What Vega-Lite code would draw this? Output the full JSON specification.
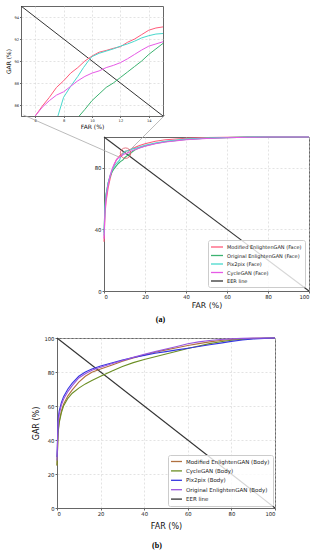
{
  "$schema": "https://vega.github.io/schema/vega-lite/v6.json",
  "padding": {"left": 5, "top": 5, "right": 0, "bottom": 0},
  "background": "white",
  "spacing": 10,
  "config": {
    "view": {"stroke": null},
    "font": "DejaVu Sans",
    "axis": {"grid": true, "gridColor": "#d0d0d0", "gridDash": [2, 2], "gridWidth": 0.6, "domainColor": "#666", "domainWidth": 1, "tickColor": "#666", "tickSize": 2, "labelColor": "#222", "titleColor": "#111", "titleFontWeight": "normal", "labelPadding": 1, "labelFont": "DejaVu Sans", "titleFont": "DejaVu Sans"},
    "legend": {"labelFont": "DejaVu Sans", "labelColor": "#222"}
  },
  "datasets": {
    "face": [
      {"m": "EER line", "far": 0, "gar": 100}, {"m": "EER line", "far": 100, "gar": 0},
      {"m": "Modified EnlightenGAN (Face)", "far": 0, "gar": 32}, {"m": "Modified EnlightenGAN (Face)", "far": 0.5, "gar": 50}, {"m": "Modified EnlightenGAN (Face)", "far": 1, "gar": 58}, {"m": "Modified EnlightenGAN (Face)", "far": 2, "gar": 67}, {"m": "Modified EnlightenGAN (Face)", "far": 3, "gar": 73}, {"m": "Modified EnlightenGAN (Face)", "far": 4, "gar": 78}, {"m": "Modified EnlightenGAN (Face)", "far": 5, "gar": 82}, {"m": "Modified EnlightenGAN (Face)", "far": 6, "gar": 85}, {"m": "Modified EnlightenGAN (Face)", "far": 6.5, "gar": 85.9}, {"m": "Modified EnlightenGAN (Face)", "far": 7, "gar": 86.7}, {"m": "Modified EnlightenGAN (Face)", "far": 7.5, "gar": 87.6}, {"m": "Modified EnlightenGAN (Face)", "far": 8, "gar": 88.2}, {"m": "Modified EnlightenGAN (Face)", "far": 8.5, "gar": 88.9}, {"m": "Modified EnlightenGAN (Face)", "far": 9, "gar": 89.4}, {"m": "Modified EnlightenGAN (Face)", "far": 9.5, "gar": 90}, {"m": "Modified EnlightenGAN (Face)", "far": 10, "gar": 90.45}, {"m": "Modified EnlightenGAN (Face)", "far": 10.5, "gar": 90.8}, {"m": "Modified EnlightenGAN (Face)", "far": 11, "gar": 90.96}, {"m": "Modified EnlightenGAN (Face)", "far": 11.5, "gar": 91.15}, {"m": "Modified EnlightenGAN (Face)", "far": 12, "gar": 91.3}, {"m": "Modified EnlightenGAN (Face)", "far": 12.5, "gar": 91.7}, {"m": "Modified EnlightenGAN (Face)", "far": 13, "gar": 92}, {"m": "Modified EnlightenGAN (Face)", "far": 13.5, "gar": 92.4}, {"m": "Modified EnlightenGAN (Face)", "far": 14, "gar": 92.8}, {"m": "Modified EnlightenGAN (Face)", "far": 14.5, "gar": 93}, {"m": "Modified EnlightenGAN (Face)", "far": 15, "gar": 93.1}, {"m": "Modified EnlightenGAN (Face)", "far": 17, "gar": 94.3}, {"m": "Modified EnlightenGAN (Face)", "far": 20, "gar": 95.6}, {"m": "Modified EnlightenGAN (Face)", "far": 25, "gar": 97.2}, {"m": "Modified EnlightenGAN (Face)", "far": 30, "gar": 98.2}, {"m": "Modified EnlightenGAN (Face)", "far": 40, "gar": 99.2}, {"m": "Modified EnlightenGAN (Face)", "far": 50, "gar": 99.6}, {"m": "Modified EnlightenGAN (Face)", "far": 60, "gar": 99.85}, {"m": "Modified EnlightenGAN (Face)", "far": 70, "gar": 100}, {"m": "Modified EnlightenGAN (Face)", "far": 100, "gar": 100},
      {"m": "Original EnlightenGAN (Face)", "far": 0, "gar": 38}, {"m": "Original EnlightenGAN (Face)", "far": 0.5, "gar": 56}, {"m": "Original EnlightenGAN (Face)", "far": 1, "gar": 63}, {"m": "Original EnlightenGAN (Face)", "far": 2, "gar": 70}, {"m": "Original EnlightenGAN (Face)", "far": 3, "gar": 74.5}, {"m": "Original EnlightenGAN (Face)", "far": 4, "gar": 77.5}, {"m": "Original EnlightenGAN (Face)", "far": 5, "gar": 79.5}, {"m": "Original EnlightenGAN (Face)", "far": 6, "gar": 81.3}, {"m": "Original EnlightenGAN (Face)", "far": 7, "gar": 82.8}, {"m": "Original EnlightenGAN (Face)", "far": 8, "gar": 84}, {"m": "Original EnlightenGAN (Face)", "far": 9.1, "gar": 85}, {"m": "Original EnlightenGAN (Face)", "far": 9.5, "gar": 85.6}, {"m": "Original EnlightenGAN (Face)", "far": 10, "gar": 86.4}, {"m": "Original EnlightenGAN (Face)", "far": 10.5, "gar": 87}, {"m": "Original EnlightenGAN (Face)", "far": 11, "gar": 87.6}, {"m": "Original EnlightenGAN (Face)", "far": 11.5, "gar": 88}, {"m": "Original EnlightenGAN (Face)", "far": 12, "gar": 88.5}, {"m": "Original EnlightenGAN (Face)", "far": 12.5, "gar": 89}, {"m": "Original EnlightenGAN (Face)", "far": 13, "gar": 89.5}, {"m": "Original EnlightenGAN (Face)", "far": 13.5, "gar": 90}, {"m": "Original EnlightenGAN (Face)", "far": 14, "gar": 90.6}, {"m": "Original EnlightenGAN (Face)", "far": 14.5, "gar": 91.1}, {"m": "Original EnlightenGAN (Face)", "far": 15, "gar": 91.6}, {"m": "Original EnlightenGAN (Face)", "far": 17, "gar": 92.8}, {"m": "Original EnlightenGAN (Face)", "far": 20, "gar": 94.2}, {"m": "Original EnlightenGAN (Face)", "far": 25, "gar": 95.8}, {"m": "Original EnlightenGAN (Face)", "far": 30, "gar": 97}, {"m": "Original EnlightenGAN (Face)", "far": 40, "gar": 98.4}, {"m": "Original EnlightenGAN (Face)", "far": 50, "gar": 99.2}, {"m": "Original EnlightenGAN (Face)", "far": 60, "gar": 99.6}, {"m": "Original EnlightenGAN (Face)", "far": 70, "gar": 99.9}, {"m": "Original EnlightenGAN (Face)", "far": 80, "gar": 100}, {"m": "Original EnlightenGAN (Face)", "far": 100, "gar": 100},
      {"m": "Pix2pix (Face)", "far": 0, "gar": 36}, {"m": "Pix2pix (Face)", "far": 0.5, "gar": 55}, {"m": "Pix2pix (Face)", "far": 1, "gar": 62}, {"m": "Pix2pix (Face)", "far": 2, "gar": 70}, {"m": "Pix2pix (Face)", "far": 3, "gar": 75}, {"m": "Pix2pix (Face)", "far": 4, "gar": 78.5}, {"m": "Pix2pix (Face)", "far": 5, "gar": 81}, {"m": "Pix2pix (Face)", "far": 6, "gar": 82.8}, {"m": "Pix2pix (Face)", "far": 7, "gar": 84.2}, {"m": "Pix2pix (Face)", "far": 7.6, "gar": 85}, {"m": "Pix2pix (Face)", "far": 8, "gar": 86.7}, {"m": "Pix2pix (Face)", "far": 8.5, "gar": 87.7}, {"m": "Pix2pix (Face)", "far": 9, "gar": 88.6}, {"m": "Pix2pix (Face)", "far": 9.4, "gar": 89.4}, {"m": "Pix2pix (Face)", "far": 9.8, "gar": 90.1}, {"m": "Pix2pix (Face)", "far": 10, "gar": 90.4}, {"m": "Pix2pix (Face)", "far": 10.5, "gar": 90.7}, {"m": "Pix2pix (Face)", "far": 11, "gar": 90.9}, {"m": "Pix2pix (Face)", "far": 11.5, "gar": 91.1}, {"m": "Pix2pix (Face)", "far": 12, "gar": 91.35}, {"m": "Pix2pix (Face)", "far": 12.5, "gar": 91.55}, {"m": "Pix2pix (Face)", "far": 13, "gar": 91.8}, {"m": "Pix2pix (Face)", "far": 13.5, "gar": 92.1}, {"m": "Pix2pix (Face)", "far": 14, "gar": 92.3}, {"m": "Pix2pix (Face)", "far": 14.5, "gar": 92.45}, {"m": "Pix2pix (Face)", "far": 15, "gar": 92.5}, {"m": "Pix2pix (Face)", "far": 17, "gar": 93.4}, {"m": "Pix2pix (Face)", "far": 20, "gar": 94.6}, {"m": "Pix2pix (Face)", "far": 25, "gar": 96}, {"m": "Pix2pix (Face)", "far": 30, "gar": 97.2}, {"m": "Pix2pix (Face)", "far": 40, "gar": 98.6}, {"m": "Pix2pix (Face)", "far": 50, "gar": 99.3}, {"m": "Pix2pix (Face)", "far": 60, "gar": 99.7}, {"m": "Pix2pix (Face)", "far": 75, "gar": 100}, {"m": "Pix2pix (Face)", "far": 100, "gar": 100},
      {"m": "CycleGAN (Face)", "far": 0, "gar": 34}, {"m": "CycleGAN (Face)", "far": 0.5, "gar": 52}, {"m": "CycleGAN (Face)", "far": 1, "gar": 60}, {"m": "CycleGAN (Face)", "far": 2, "gar": 69}, {"m": "CycleGAN (Face)", "far": 3, "gar": 75}, {"m": "CycleGAN (Face)", "far": 4, "gar": 79.5}, {"m": "CycleGAN (Face)", "far": 5, "gar": 82.5}, {"m": "CycleGAN (Face)", "far": 6, "gar": 85}, {"m": "CycleGAN (Face)", "far": 6.5, "gar": 85.8}, {"m": "CycleGAN (Face)", "far": 7, "gar": 86.4}, {"m": "CycleGAN (Face)", "far": 7.5, "gar": 86.9}, {"m": "CycleGAN (Face)", "far": 8, "gar": 87.2}, {"m": "CycleGAN (Face)", "far": 8.5, "gar": 87.7}, {"m": "CycleGAN (Face)", "far": 9, "gar": 88.2}, {"m": "CycleGAN (Face)", "far": 9.5, "gar": 88.6}, {"m": "CycleGAN (Face)", "far": 10, "gar": 88.9}, {"m": "CycleGAN (Face)", "far": 10.5, "gar": 89.1}, {"m": "CycleGAN (Face)", "far": 11, "gar": 89.4}, {"m": "CycleGAN (Face)", "far": 11.5, "gar": 89.6}, {"m": "CycleGAN (Face)", "far": 12, "gar": 89.85}, {"m": "CycleGAN (Face)", "far": 12.5, "gar": 90.2}, {"m": "CycleGAN (Face)", "far": 13, "gar": 90.6}, {"m": "CycleGAN (Face)", "far": 13.5, "gar": 91}, {"m": "CycleGAN (Face)", "far": 14, "gar": 91.35}, {"m": "CycleGAN (Face)", "far": 14.5, "gar": 91.55}, {"m": "CycleGAN (Face)", "far": 15, "gar": 91.75}, {"m": "CycleGAN (Face)", "far": 17, "gar": 92.7}, {"m": "CycleGAN (Face)", "far": 20, "gar": 94}, {"m": "CycleGAN (Face)", "far": 25, "gar": 95.6}, {"m": "CycleGAN (Face)", "far": 30, "gar": 96.8}, {"m": "CycleGAN (Face)", "far": 40, "gar": 98.2}, {"m": "CycleGAN (Face)", "far": 50, "gar": 99}, {"m": "CycleGAN (Face)", "far": 60, "gar": 99.5}, {"m": "CycleGAN (Face)", "far": 70, "gar": 99.8}, {"m": "CycleGAN (Face)", "far": 80, "gar": 100}, {"m": "CycleGAN (Face)", "far": 100, "gar": 100}
    ],
    "body": [
      {"m": "EER line", "far": 0, "gar": 100}, {"m": "EER line", "far": 100, "gar": 0},
      {"m": "Modified EnlightenGAN (Body)", "far": 0, "gar": 25}, {"m": "Modified EnlightenGAN (Body)", "far": 0.5, "gar": 45}, {"m": "Modified EnlightenGAN (Body)", "far": 1, "gar": 51}, {"m": "Modified EnlightenGAN (Body)", "far": 2, "gar": 57}, {"m": "Modified EnlightenGAN (Body)", "far": 3, "gar": 61}, {"m": "Modified EnlightenGAN (Body)", "far": 5, "gar": 66}, {"m": "Modified EnlightenGAN (Body)", "far": 7, "gar": 69.5}, {"m": "Modified EnlightenGAN (Body)", "far": 10, "gar": 74}, {"m": "Modified EnlightenGAN (Body)", "far": 13, "gar": 77.5}, {"m": "Modified EnlightenGAN (Body)", "far": 16, "gar": 79.8}, {"m": "Modified EnlightenGAN (Body)", "far": 20, "gar": 81.8}, {"m": "Modified EnlightenGAN (Body)", "far": 25, "gar": 84}, {"m": "Modified EnlightenGAN (Body)", "far": 30, "gar": 86.3}, {"m": "Modified EnlightenGAN (Body)", "far": 35, "gar": 88.3}, {"m": "Modified EnlightenGAN (Body)", "far": 40, "gar": 90}, {"m": "Modified EnlightenGAN (Body)", "far": 45, "gar": 91.6}, {"m": "Modified EnlightenGAN (Body)", "far": 50, "gar": 93}, {"m": "Modified EnlightenGAN (Body)", "far": 55, "gar": 94.3}, {"m": "Modified EnlightenGAN (Body)", "far": 60, "gar": 95.6}, {"m": "Modified EnlightenGAN (Body)", "far": 65, "gar": 96.7}, {"m": "Modified EnlightenGAN (Body)", "far": 70, "gar": 97.7}, {"m": "Modified EnlightenGAN (Body)", "far": 75, "gar": 98.5}, {"m": "Modified EnlightenGAN (Body)", "far": 80, "gar": 99.1}, {"m": "Modified EnlightenGAN (Body)", "far": 85, "gar": 99.5}, {"m": "Modified EnlightenGAN (Body)", "far": 90, "gar": 99.8}, {"m": "Modified EnlightenGAN (Body)", "far": 100, "gar": 100},
      {"m": "CycleGAN (Body)", "far": 0, "gar": 25}, {"m": "CycleGAN (Body)", "far": 0.5, "gar": 44}, {"m": "CycleGAN (Body)", "far": 1, "gar": 50}, {"m": "CycleGAN (Body)", "far": 2, "gar": 56}, {"m": "CycleGAN (Body)", "far": 3, "gar": 60}, {"m": "CycleGAN (Body)", "far": 5, "gar": 64.5}, {"m": "CycleGAN (Body)", "far": 7, "gar": 67.5}, {"m": "CycleGAN (Body)", "far": 10, "gar": 70.5}, {"m": "CycleGAN (Body)", "far": 13, "gar": 73}, {"m": "CycleGAN (Body)", "far": 16, "gar": 75}, {"m": "CycleGAN (Body)", "far": 20, "gar": 77.5}, {"m": "CycleGAN (Body)", "far": 25, "gar": 80.5}, {"m": "CycleGAN (Body)", "far": 30, "gar": 83.3}, {"m": "CycleGAN (Body)", "far": 35, "gar": 85.5}, {"m": "CycleGAN (Body)", "far": 40, "gar": 87.3}, {"m": "CycleGAN (Body)", "far": 45, "gar": 89}, {"m": "CycleGAN (Body)", "far": 50, "gar": 90.6}, {"m": "CycleGAN (Body)", "far": 55, "gar": 92.2}, {"m": "CycleGAN (Body)", "far": 60, "gar": 93.8}, {"m": "CycleGAN (Body)", "far": 65, "gar": 95.3}, {"m": "CycleGAN (Body)", "far": 70, "gar": 96.7}, {"m": "CycleGAN (Body)", "far": 75, "gar": 97.8}, {"m": "CycleGAN (Body)", "far": 80, "gar": 98.7}, {"m": "CycleGAN (Body)", "far": 85, "gar": 99.3}, {"m": "CycleGAN (Body)", "far": 90, "gar": 99.7}, {"m": "CycleGAN (Body)", "far": 100, "gar": 100},
      {"m": "Pix2pix (Body)", "far": 0, "gar": 30}, {"m": "Pix2pix (Body)", "far": 0.5, "gar": 52}, {"m": "Pix2pix (Body)", "far": 1, "gar": 57}, {"m": "Pix2pix (Body)", "far": 2, "gar": 62}, {"m": "Pix2pix (Body)", "far": 3, "gar": 65.5}, {"m": "Pix2pix (Body)", "far": 5, "gar": 70}, {"m": "Pix2pix (Body)", "far": 7, "gar": 73.5}, {"m": "Pix2pix (Body)", "far": 10, "gar": 77.5}, {"m": "Pix2pix (Body)", "far": 13, "gar": 80}, {"m": "Pix2pix (Body)", "far": 16, "gar": 81.8}, {"m": "Pix2pix (Body)", "far": 20, "gar": 83.5}, {"m": "Pix2pix (Body)", "far": 25, "gar": 85.3}, {"m": "Pix2pix (Body)", "far": 30, "gar": 87}, {"m": "Pix2pix (Body)", "far": 35, "gar": 88.5}, {"m": "Pix2pix (Body)", "far": 40, "gar": 89.8}, {"m": "Pix2pix (Body)", "far": 45, "gar": 91}, {"m": "Pix2pix (Body)", "far": 50, "gar": 92}, {"m": "Pix2pix (Body)", "far": 55, "gar": 93}, {"m": "Pix2pix (Body)", "far": 60, "gar": 94}, {"m": "Pix2pix (Body)", "far": 65, "gar": 95}, {"m": "Pix2pix (Body)", "far": 70, "gar": 96}, {"m": "Pix2pix (Body)", "far": 75, "gar": 97}, {"m": "Pix2pix (Body)", "far": 80, "gar": 98}, {"m": "Pix2pix (Body)", "far": 85, "gar": 98.8}, {"m": "Pix2pix (Body)", "far": 90, "gar": 99.4}, {"m": "Pix2pix (Body)", "far": 95, "gar": 99.8}, {"m": "Pix2pix (Body)", "far": 100, "gar": 100},
      {"m": "Original EnlightenGAN (Body)", "far": 0, "gar": 28}, {"m": "Original EnlightenGAN (Body)", "far": 0.5, "gar": 50}, {"m": "Original EnlightenGAN (Body)", "far": 1, "gar": 55}, {"m": "Original EnlightenGAN (Body)", "far": 2, "gar": 60.5}, {"m": "Original EnlightenGAN (Body)", "far": 3, "gar": 64}, {"m": "Original EnlightenGAN (Body)", "far": 5, "gar": 68.5}, {"m": "Original EnlightenGAN (Body)", "far": 7, "gar": 72}, {"m": "Original EnlightenGAN (Body)", "far": 10, "gar": 76.5}, {"m": "Original EnlightenGAN (Body)", "far": 13, "gar": 79}, {"m": "Original EnlightenGAN (Body)", "far": 16, "gar": 81}, {"m": "Original EnlightenGAN (Body)", "far": 20, "gar": 82.8}, {"m": "Original EnlightenGAN (Body)", "far": 25, "gar": 84.8}, {"m": "Original EnlightenGAN (Body)", "far": 30, "gar": 86.8}, {"m": "Original EnlightenGAN (Body)", "far": 35, "gar": 88.6}, {"m": "Original EnlightenGAN (Body)", "far": 40, "gar": 90.4}, {"m": "Original EnlightenGAN (Body)", "far": 45, "gar": 92}, {"m": "Original EnlightenGAN (Body)", "far": 50, "gar": 93.5}, {"m": "Original EnlightenGAN (Body)", "far": 55, "gar": 95}, {"m": "Original EnlightenGAN (Body)", "far": 60, "gar": 96.6}, {"m": "Original EnlightenGAN (Body)", "far": 65, "gar": 97.7}, {"m": "Original EnlightenGAN (Body)", "far": 70, "gar": 98.5}, {"m": "Original EnlightenGAN (Body)", "far": 75, "gar": 99.1}, {"m": "Original EnlightenGAN (Body)", "far": 80, "gar": 99.5}, {"m": "Original EnlightenGAN (Body)", "far": 85, "gar": 99.8}, {"m": "Original EnlightenGAN (Body)", "far": 90, "gar": 99.9}, {"m": "Original EnlightenGAN (Body)", "far": 100, "gar": 100}
    ],
    "zoomlines": [
      {"x1": -39.3, "y1": 114.3, "x2": 7.3, "y2": 87},
      {"x1": 29.8, "y1": 114.3, "x2": 11.2, "y2": 89.6}
    ],
    "zoomcircle": [{"far": 10.5, "gar": 89.5}]
  },
  "resolve": {"scale": {"color": "independent", "x": "independent", "y": "independent"}, "legend": {"color": "independent"}},
  "vconcat": [
    {
      "spacing": -16,
      "resolve": {"scale": {"color": "independent", "x": "independent", "y": "independent"}, "legend": {"color": "independent"}},
      "vconcat": [
        {
          "width": 142, "height": 110,
          "view": {"stroke": "#666", "strokeWidth": 1},
          "data": {"name": "face"},
          "mark": {"type": "line", "clip": true, "strokeWidth": 1},
          "encoding": {
            "x": {"field": "far", "type": "quantitative", "scale": {"domain": [5, 15], "nice": false, "zero": false}, "axis": {"title": "FAR (%)", "values": [6, 8, 10, 12, 14], "labelFontSize": 3.6, "titleFontSize": 6, "titlePadding": 1, "tickSize": 1.5}},
            "y": {"field": "gar", "type": "quantitative", "scale": {"domain": [85, 95], "nice": false, "zero": false}, "axis": {"title": "GAR (%)", "values": [86, 88, 90, 92, 94], "labelFontSize": 3.6, "titleFontSize": 6, "titlePadding": 2, "tickSize": 1.5}},
            "color": {"field": "m", "type": "nominal", "legend": null,
              "scale": {"domain": ["Modified EnlightenGAN (Face)", "Original EnlightenGAN (Face)", "Pix2pix (Face)", "CycleGAN (Face)", "EER line"], "range": ["#ff5b7a", "#3cb371", "#48d8cc", "#e65ae6", "#333333"]}}
          }
        },
        {
          "spacing": 0,
          "resolve": {"scale": {"color": "independent", "x": "independent", "y": "independent"}, "legend": {"color": "independent"}},
          "hconcat": [
            {"width": 1, "height": 154, "data": {"values": []}, "mark": "point"},
            {
              "width": 205, "height": 154,
              "view": {"stroke": "#666", "strokeWidth": 1},
              "title": {"text": "(a)", "orient": "bottom", "anchor": "middle", "frame": "group", "dx": -46, "offset": 7, "font": "Liberation Serif", "fontWeight": "bold", "fontSize": 8, "color": "#000"},
              "layer": [
                {
                  "data": {"name": "face"},
                  "mark": {"type": "line", "strokeWidth": 1.1},
                  "encoding": {
                    "x": {"field": "far", "type": "quantitative", "scale": {"domain": [0, 100], "nice": false}, "axis": {"title": "FAR (%)", "values": [0, 20, 40, 60, 80, 100], "labelFontSize": 5.3, "titleFontSize": 7.8, "titlePadding": 2}},
                    "y": {"field": "gar", "type": "quantitative", "scale": {"domain": [0, 100], "nice": false}, "axis": {"title": null, "values": [0, 20, 40, 60, 80, 100], "labelFontSize": 5.3}},
                    "color": {"field": "m", "type": "nominal",
                      "scale": {"domain": ["Modified EnlightenGAN (Face)", "Original EnlightenGAN (Face)", "Pix2pix (Face)", "CycleGAN (Face)", "EER line"], "range": ["#ff5b7a", "#3cb371", "#48d8cc", "#e65ae6", "#333333"]},
                      "legend": {"orient": "bottom-right", "offset": 4, "title": null, "fillColor": "rgba(255,255,255,0.8)", "strokeColor": "#cccccc", "cornerRadius": 2, "padding": 3, "labelFontSize": 5, "symbolType": "M-2,0H2", "symbolSize": 36, "symbolStrokeWidth": 1.3, "symbolOffset": 2, "rowPadding": 1.5, "labelOffset": 6}}
                  }
                },
                {
                  "data": {"name": "zoomlines"},
                  "mark": {"type": "rule", "clip": false, "color": "#aaaaaa", "strokeWidth": 0.8},
                  "encoding": {
                    "x": {"field": "x1", "type": "quantitative"},
                    "y": {"field": "y1", "type": "quantitative"},
                    "x2": {"field": "x2"},
                    "y2": {"field": "y2"}
                  }
                },
                {
                  "data": {"name": "zoomcircle"},
                  "mark": {"type": "point", "shape": "circle", "size": 110, "filled": false, "color": "#e05060", "strokeWidth": 0.8, "opacity": 1},
                  "encoding": {
                    "x": {"field": "far", "type": "quantitative"},
                    "y": {"field": "gar", "type": "quantitative"}
                  }
                }
              ]
            }
          ]
        }
      ]
    },
    {
      "spacing": 0,
      "resolve": {"scale": {"color": "independent", "x": "independent", "y": "independent"}, "legend": {"color": "independent"}},
      "hconcat": [
        {"width": 11, "height": 170, "data": {"values": []}, "mark": "point"},
        {
          "width": 218, "height": 170,
          "view": {"stroke": "#666", "strokeWidth": 1},
          "title": {"text": "(b)", "orient": "bottom", "anchor": "middle", "frame": "group", "dx": -9, "offset": 12, "font": "Liberation Serif", "fontWeight": "bold", "fontSize": 8, "color": "#000"},
          "data": {"name": "body"},
          "mark": {"type": "line", "strokeWidth": 1.1},
          "encoding": {
            "x": {"field": "far", "type": "quantitative", "scale": {"domain": [0, 100], "nice": false}, "axis": {"title": "FAR (%)", "values": [0, 20, 40, 60, 80, 100], "labelFontSize": 5.3, "titleFontSize": 8, "titlePadding": 6}},
            "y": {"field": "gar", "type": "quantitative", "scale": {"domain": [0, 100], "nice": false}, "axis": {"title": "GAR (%)", "values": [0, 20, 40, 60, 80, 100], "labelFontSize": 5.3, "titleFontSize": 8, "titlePadding": 3}},
            "color": {"field": "m", "type": "nominal",
              "scale": {"domain": ["Modified EnlightenGAN (Body)", "CycleGAN (Body)", "Pix2pix (Body)", "Original EnlightenGAN (Body)", "EER line"], "range": ["#b07040", "#6b8e23", "#3535e0", "#9955dd", "#333333"]},
              "legend": {"orient": "bottom-right", "offset": 2, "title": null, "fillColor": "rgba(255,255,255,0.8)", "strokeColor": "#cccccc", "cornerRadius": 2, "padding": 3, "labelFontSize": 5.5, "symbolType": "M-2,0H2", "symbolSize": 30, "symbolStrokeWidth": 1.3, "symbolOffset": 2, "rowPadding": 2.4, "labelOffset": 6}}
          }
        }
      ]
    }
  ]
}
